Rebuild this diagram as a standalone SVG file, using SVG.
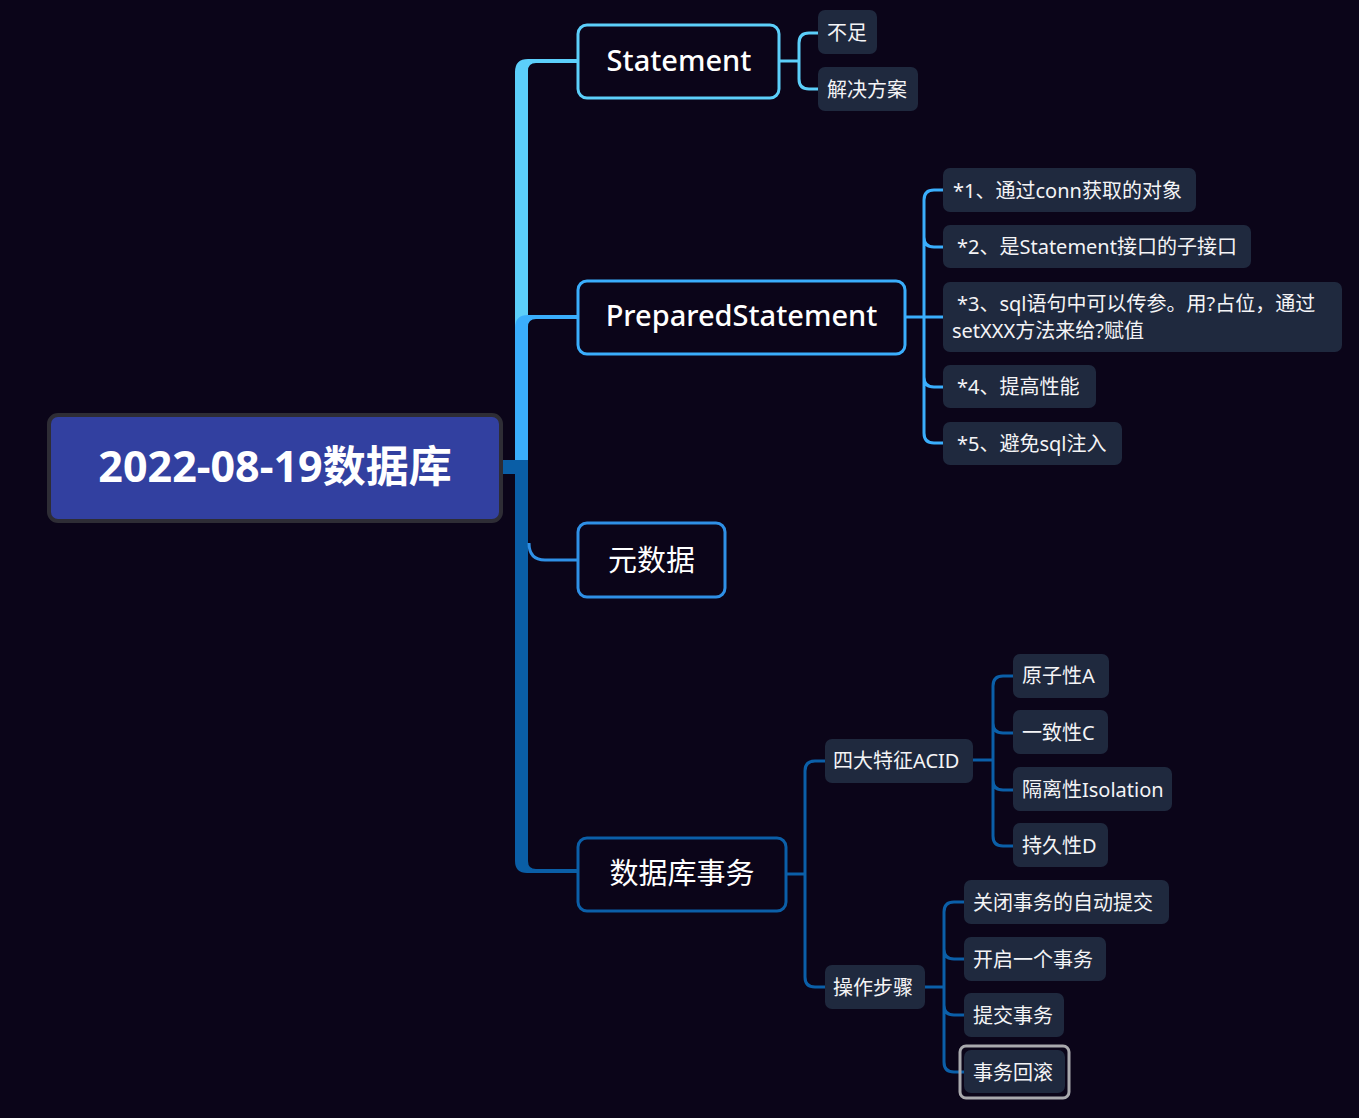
<svg xmlns="http://www.w3.org/2000/svg" width="1359" height="1118" viewBox="0 0 1359 1118">
<style>
.l1{fill:#0b0519;stroke-width:3}
.l1t{font-family:"Noto Sans","Noto Sans CJK SC",sans-serif;font-size:29px;font-weight:500;fill:#ffffff;text-anchor:middle}
.cjk{font-weight:400}
.sn{fill:#1f293e}
.st{font-family:"Noto Sans","Noto Sans CJK SC",sans-serif;font-size:20px;fill:#f4f4f6}
.c{fill:none;stroke-width:3}
</style>
<rect width="1359" height="1118" fill="#0b0519"/>
<g id="connectors">
<path d="M515,467 L515,72 Q515,59 528,59 L578,59 L578,63 L536,63 Q528,63 528,71 L528,467 Z" fill="#5ccffa"/>
<path d="M515,467 L515,328 Q515,315 528,315 L578,315 L578,319 L536,319 Q528,319 528,327 L528,467 Z" fill="#3aaefc"/>
<path d="M515,460 L515,861 Q515,873 527,873 L578,873 L578,869 L536,869 Q528,869 528,861 L528,460 Z" fill="#0a5ea6"/>
<rect x="502" y="460" width="26" height="14" fill="#0a5ea6"/>
<path class="c" d="M529,543 Q529,560 545,560 L578,560" stroke="#2f90e6"/>
<path class="c" stroke="#5ccffa" d="M780,61 H799 M818,33 H809 Q799,33 799,43 V79 Q799,89 809,89 H818"/>
<path class="c" stroke="#3aaefc" d="M905,317 H943 M943,190 H934 Q924,190 924,200 V433 Q924,443 934,443 H943 M924,237 Q924,247 934,247 H943 M924,377 Q924,387 934,387 H943"/>
<path class="c" stroke="#0b5fa8" d="M787,874 H805 M825,761 H815 Q805,761 805,771 V977 Q805,987 815,987 H825"/>
<path class="c" stroke="#0b5fa8" d="M973,760 H993 M1013,676 H1003 Q993,676 993,686 V836 Q993,846 1003,846 H1013 M993,723 Q993,733 1003,733 H1013 M993,780 Q993,790 1003,790 H1013"/>
<path class="c" stroke="#0b5fa8" d="M925,987 H944 M964,902 H954 Q944,902 944,912 V1062 Q944,1072 954,1072 H964 M944,949 Q944,959 954,959 H964 M944,1005 Q944,1015 954,1015 H964"/>
</g>
<g id="root">
<rect x="49" y="415" width="452" height="106" rx="9" fill="#3240a0" stroke="#2e2d35" stroke-width="4"/>
<text x="275" y="482" font-family="Noto Sans,'Noto Sans CJK SC',sans-serif" font-size="43" font-weight="700" fill="#ffffff" text-anchor="middle">2022-08-19数据库</text>
</g>
<g id="statement">
<rect class="l1" x="578" y="25" width="201" height="73" rx="9" stroke="#5ccffa"/>
<text class="l1t" x="679" y="71">Statement</text>
</g>
<g id="buzu"><rect class="sn" x="818" y="10" width="59" height="44" rx="7"/><text class="st" x="827" y="40">不足</text></g>
<g id="jiejue"><rect class="sn" x="818" y="67" width="100" height="44" rx="7"/><text class="st" x="827" y="97">解决方案</text></g>
<g id="prepared">
<rect class="l1" x="578" y="281" width="327" height="73" rx="9" stroke="#3aaefc"/>
<text class="l1t" x="741.5" y="326">PreparedStatement</text>
</g>
<g id="ps1"><rect class="sn" x="943" y="168" width="253" height="44" rx="7"/><text class="st" x="953" y="198">*1、通过conn获取的对象</text></g>
<g id="ps2"><rect class="sn" x="943" y="225" width="308" height="43" rx="7"/><text class="st" x="957" y="254">*2、是Statement接口的子接口</text></g>
<g id="ps3"><rect class="sn" x="943" y="282" width="399" height="70" rx="7"/><text class="st" x="957" y="311">*3、sql语句中可以传参。用?占位，通过</text><text class="st" x="952" y="338">setXXX方法来给?赋值</text></g>
<g id="ps4"><rect class="sn" x="943" y="365" width="153" height="43" rx="7"/><text class="st" x="957" y="394">*4、提高性能</text></g>
<g id="ps5"><rect class="sn" x="943" y="422" width="179" height="43" rx="7"/><text class="st" x="957" y="451">*5、避免sql注入</text></g>
<g id="metadata">
<rect class="l1" x="578" y="523" width="147" height="74" rx="9" stroke="#2f90e6"/>
<text class="l1t cjk" x="651.5" y="571">元数据</text>
</g>
<g id="transaction">
<rect class="l1" x="578" y="838" width="208" height="73" rx="9" stroke="#0b5fa8"/>
<text class="l1t cjk" x="682" y="884">数据库事务</text>
</g>
<g id="acid"><rect class="sn" x="825" y="739" width="148" height="44" rx="7"/><text class="st" x="833" y="768">四大特征ACID</text></g>
<g id="a"><rect class="sn" x="1013" y="654" width="96" height="44" rx="7"/><text class="st" x="1022" y="683">原子性A</text></g>
<g id="c"><rect class="sn" x="1013" y="710" width="95" height="44" rx="7"/><text class="st" x="1022" y="740">一致性C</text></g>
<g id="i"><rect class="sn" x="1013" y="767" width="159" height="44" rx="7"/><text class="st" x="1022" y="797">隔离性Isolation</text></g>
<g id="d"><rect class="sn" x="1013" y="823" width="95" height="44" rx="7"/><text class="st" x="1022" y="853">持久性D</text></g>
<g id="steps"><rect class="sn" x="825" y="965" width="100" height="44" rx="7"/><text class="st" x="833" y="995">操作步骤</text></g>
<g id="s1"><rect class="sn" x="964" y="880" width="205" height="44" rx="7"/><text class="st" x="973" y="910">关闭事务的自动提交</text></g>
<g id="s2"><rect class="sn" x="964" y="937" width="142" height="44" rx="7"/><text class="st" x="973" y="967">开启一个事务</text></g>
<g id="s3"><rect class="sn" x="964" y="993" width="100" height="44" rx="7"/><text class="st" x="973" y="1023">提交事务</text></g>
<g id="s4"><rect x="960" y="1046" width="109" height="52" rx="6" fill="none" stroke="#a9a9ad" stroke-width="3"/><rect class="sn" x="964" y="1050" width="101" height="43" rx="7"/><text class="st" x="973" y="1080">事务回滚</text></g>
</svg>
